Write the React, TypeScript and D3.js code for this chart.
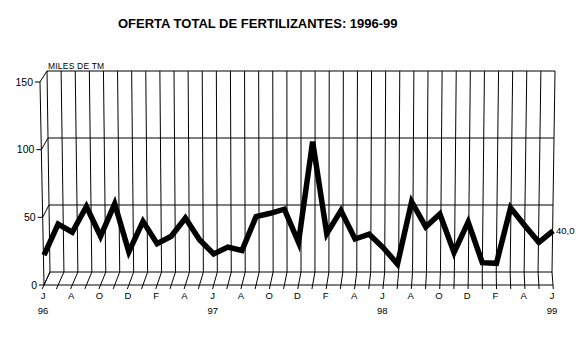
import React from "react";
import * as d3 from "d3";

const title = "OFERTA TOTAL DE FERTILIZANTES: 1996-99";
const unitLabel = "MILES DE TM";
const monthLabels = ["J", "A", "O", "D", "F", "A", "J", "A", "O", "D", "F", "A", "J", "A", "O", "D", "F", "A", "J"];
const yearLabels = ["96", "97", "98", "99"];
const yTicks = [0, 50, 100, 150];
// Monthly values Jun-96 .. Jun-99 (thousand tonnes)
const values = [
  22, 45, 39, 58, 36, 60, 24.5, 47, 30.5, 36, 49.5, 33.5, 23, 28, 25.5, 50.5, 53, 56, 31.5,
  106, 38, 55, 34, 37.5, 27.5, 15.5, 61.5, 43, 52.5, 24, 46.5, 16.5, 16, 57, 44, 31.5, 40,
];
const lastLabel = "40,0";

export default function App() {
  const W = 585, H = 359;
  const n = values.length - 1;
  const xFront = d3.scaleLinear().domain([0, n]).range([44, 553]);
  const xBackBottom = d3.scaleLinear().domain([0, n]).range([50, 552]);
  const xBackTop = d3.scaleLinear().domain([0, n]).range([47, 555]);
  const yFront = d3.scaleLinear().domain([0, 150]).range([285, 82]);
  const yBack = d3.scaleLinear().domain([0, 150]).range([272, 71]);
  const frontLeftX = d3.scaleLinear().domain([0, 150]).range([44, 40]);
  const backX = (i: number, v: number) =>
    xBackBottom(i) + (xBackTop(i) - xBackBottom(i)) * (v / 150);

  const idx = d3.range(values.length);
  const line = d3
    .line<number>()
    .x((d, i) => xFront(i))
    .y((d) => yFront(d));

  const font = "Arial, 'Liberation Sans', sans-serif";
  const st = { stroke: "#000", strokeWidth: 1, fill: "none" } as const;

  return (
    <svg width={W} height={H} style={{ position: "absolute", left: 0, top: 0, background: "#fff" }}>
      <rect x={0} y={0} width={W} height={H} fill="#fff" />
      <text x={118} y={28} fontFamily={font} fontWeight="bold" fontSize={13} fill="#000">
        {title}
      </text>
      <text x={48} y={69} fontFamily={font} fontSize={8.5} letterSpacing={0.2} fill="#000">
        {unitLabel}
      </text>

      {/* back wall verticals */}
      {idx.map((i) => (
        <line key={"v" + i} x1={backX(i, 0)} y1={yBack(0)} x2={backX(i, 150)} y2={yBack(150)} {...st} />
      ))}
      {/* back wall horizontals + left diagonals + y ticks */}
      {yTicks.map((v) => (
        <g key={"h" + v}>
          <line x1={backX(0, v)} y1={yBack(v)} x2={backX(n, v)} y2={yBack(v)} {...st} />
          <line x1={frontLeftX(v)} y1={yFront(v)} x2={backX(0, v)} y2={yBack(v)} {...st} />
          <line x1={frontLeftX(v) - 5} y1={yFront(v)} x2={frontLeftX(v)} y2={yFront(v)} {...st} />
          <text
            x={frontLeftX(v) - 7}
            y={yFront(v) + 3.5}
            textAnchor="end"
            fontFamily={font}
            fontSize={10.5}
            fill="#000"
          >
            {v}
          </text>
        </g>
      ))}
      {/* left axis */}
      <line x1={frontLeftX(0)} y1={yFront(0)} x2={frontLeftX(150)} y2={yFront(150)} {...st} />
      {/* floor front line */}
      <line x1={xFront(0)} y1={yFront(0)} x2={xFront(n)} y2={yFront(0)} {...st} />
      {/* floor diagonals with ticks */}
      {idx.map((i) => {
        const xf = xFront(i), xb = backX(i, 0);
        const k = 4 / 13;
        return (
          <line
            key={"d" + i}
            x1={xf - (xb - xf) * k}
            y1={yFront(0) + 4}
            x2={xb}
            y2={yBack(0)}
            {...st}
          />
        );
      })}
      {/* x labels */}
      {monthLabels.map((m, j) => (
        <text
          key={"m" + j}
          x={xFront(j * 2) - 1}
          y={299}
          textAnchor="middle"
          fontFamily={font}
          fontSize={9.5}
          fill="#000"
        >
          {m}
        </text>
      ))}
      {yearLabels.map((y, j) => (
        <text
          key={"y" + j}
          x={xFront(j * 12) - 1}
          y={314}
          textAnchor="middle"
          fontFamily={font}
          fontSize={9.5}
          fill="#000"
        >
          {y}
        </text>
      ))}

      {/* data line */}
      <path d={line(values) || ""} fill="none" stroke="#000" strokeWidth={5.5} strokeLinejoin="miter" />
      <text
        x={xFront(n) + 3}
        y={yFront(values[n]) + 3.5}
        fontFamily={font}
        fontSize={9.5}
        fill="#000"
      >
        {lastLabel}
      </text>
    </svg>
  );
}
